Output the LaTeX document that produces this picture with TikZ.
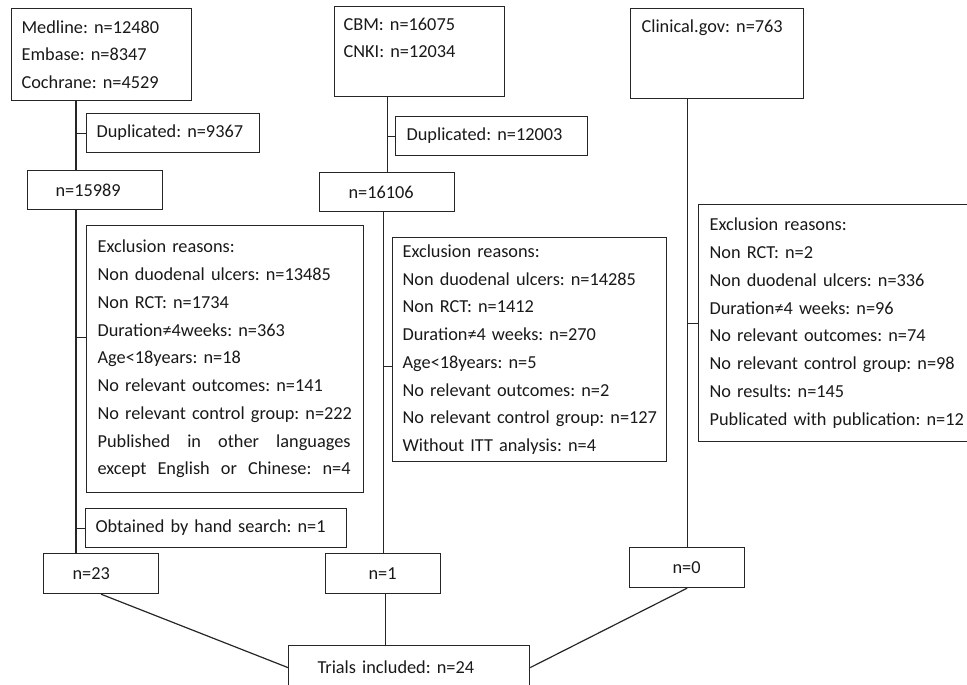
\documentclass[tikz,border=0pt]{standalone}
\usepackage{fontspec}
\setmainfont{Carlito}
\frenchspacing
\begin{document}
\begin{tikzpicture}[x=1pt,y=-1pt,
  box/.style={draw=black!85, line width=1.2pt, anchor=north west, align=left,
    inner ysep=2pt, font=\fontsize{18.3}{27.75}\selectfont\frenchspacing, text=black!90},
  conn/.style={draw=black!85, line width=1.2pt}]
\useasboundingbox (0,0) rectangle (967,685);
\clip (0,0) rectangle (967,685);
% left column
\node[box, inner xsep=10pt, text width=160pt, minimum height=92pt] (med) at (11,8)
  {Medline: n=12480\\Embase: n=8347\\Cochrane: n=4529};
\node[box, inner xsep=10pt, text width=153pt, minimum height=39pt] (dup1) at (86,113)
  {Duplicated: n=9367};
\node[box, inner xsep=28pt, text width=79pt, minimum height=39pt] (n15989) at (27,170)
  {n=15989};
\node[box, inner xsep=11pt, text width=255pt, minimum height=267pt] (exc1) at (86,225)
  {Exclusion reasons:\\Non duodenal ulcers: n=13485\\Non RCT: n=1734\\Duration≠4weeks: n=363\\Age<18years: n=18\\No relevant outcomes: n=141\\\mbox{No relevant control group: n=222}\\\makebox[253pt][l]{Published\hfill in\hfill other\hfill languages}\\\makebox[253pt][l]{except\hfill English\hfill or\hfill Chinese:\hfill n=4}};
\node[box, inner xsep=10pt, text width=241pt, minimum height=39pt] (hand) at (85,508)
  {Obtained by hand search: n=1};
\node[box, inner xsep=29pt, text width=57pt, minimum height=40pt] (n23) at (43,553)
  {n=23};
% middle column
\node[box, inner xsep=9pt, text width=152pt, minimum height=90pt] (cbm) at (334,6)
  {CBM: n=16075\\CNKI: n=12034\\\mbox{}};
\node[box, inner xsep=11pt, text width=170pt, minimum height=39pt] (dup2) at (395,116)
  {Duplicated: n=12003};
\node[box, inner xsep=29pt, text width=77pt, minimum height=39pt] (n16106) at (319,172)
  {n=16106};
\node[box, inner xsep=10pt, text width=254pt, minimum height=224pt] (exc2) at (392,237)
  {Exclusion reasons:\\Non duodenal ulcers: n=14285\\Non RCT: n=1412\\Duration≠4 weeks: n=270\\Age<18years: n=5\\No relevant outcomes: n=2\\\mbox{No relevant control group: n=127}\\Without ITT analysis: n=4};
\node[box, inner xsep=43pt, text width=29pt, minimum height=40pt] (n1) at (325,553)
  {n=1};
% right column
\node[box, inner xsep=11pt, text width=151pt, minimum height=90pt] (clin) at (630,8)
  {Clinical.gov: n=763\\\mbox{}\\\mbox{}};
\node[box, inner xsep=11pt, text width=268pt, minimum height=237pt] (exc3) at (698,204)
  {Exclusion reasons:\\Non RCT: n=2\\Non duodenal ulcers: n=336\\Duration≠4 weeks: n=96\\No relevant outcomes: n=74\\No relevant control group: n=98\\No results: n=145\\\mbox{Publicated with publication: n=12}};
\node[box, inner xsep=43pt, text width=29pt, minimum height=40pt] (n0) at (629,547)
  {n=0};
% bottom
\node[box, inner xsep=29pt, text width=183pt, minimum height=44pt] (trials) at (288,645)
  {Trials included: n=24};
% connectors
\coordinate (xL) at (76,0);
\draw[conn] (med.south -| xL) -- (n15989.north -| xL);
\draw[conn] (dup1.west) -- (dup1.west -| xL);
\draw[conn] (n15989.south -| xL) -- (n23.north -| xL);
\draw[conn] ([yshift=21.5pt]exc1.west) -- ([yshift=21.5pt]exc1.west -| xL);
\draw[conn] (hand.west) -- (hand.west -| xL);
\draw[conn] (n23.south) -- (trials.west);
\draw[conn] (cbm.south -| n16106.north) -- (n16106.north);
\draw[conn] (dup2.west) -- (dup2.west -| n16106.north);
\draw[conn] (n16106.south -| n1.north) -- (n1.north);
\draw[conn] ([yshift=-17pt]exc2.west) -- ([yshift=-17pt]exc2.west -| n1.north);
\draw[conn] ([xshift=2.5pt]n1.south) -- ([xshift=2.5pt]n1.south |- trials.north);
\draw[conn] (clin.south -| n0.north) -- (n0.north);
\draw[conn] (exc3.west) -- (exc3.west -| n0.north);
\draw[conn] (n0.south) -- (trials.east);
\end{tikzpicture}
\end{document}
